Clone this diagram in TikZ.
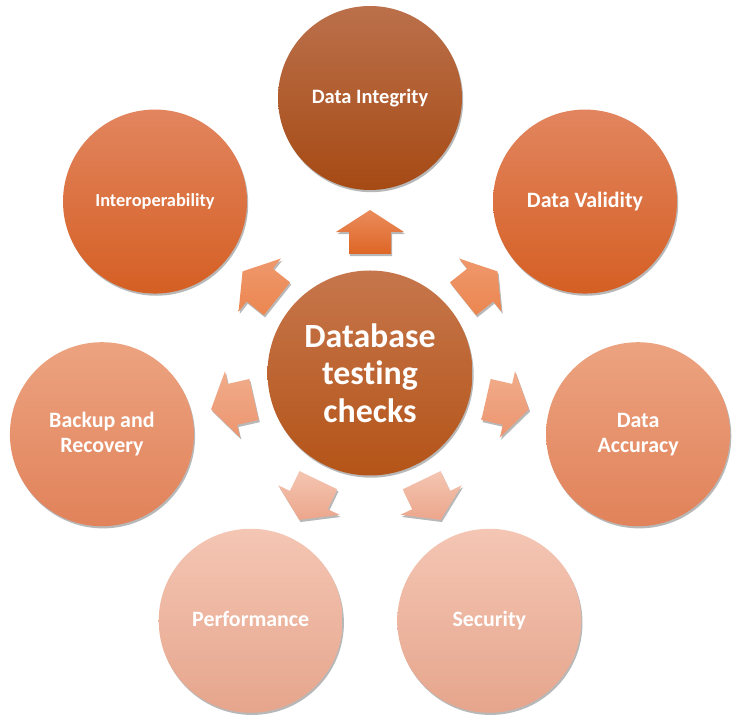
\documentclass[tikz,border=0pt]{standalone}
\usepackage{fontspec}
\setmainfont{Carlito}[Ligatures=NoCommon, Contextuals=NoAlternate]
\usetikzlibrary{shadows}
\definecolor{hubT}{RGB}{198,118,76}
\definecolor{hubB}{RGB}{180,84,24}
\definecolor{intT}{RGB}{187,112,75}
\definecolor{intB}{RGB}{166,74,20}
\definecolor{aT}{RGB}{226,133,95}
\definecolor{aB}{RGB}{213,95,35}
\definecolor{bT}{RGB}{236,163,128}
\definecolor{bB}{RGB}{225,130,90}
\definecolor{cT}{RGB}{244,198,180}
\definecolor{cB}{RGB}{230,165,140}
\definecolor{arUT}{RGB}{234,140,92}
\definecolor{arUB}{RGB}{222,102,38}
\definecolor{ar1T}{RGB}{238,152,108}
\definecolor{ar1B}{RGB}{236,134,80}
\definecolor{ar2T}{RGB}{241,172,138}
\definecolor{ar2B}{RGB}{236,150,112}
\definecolor{ar3T}{RGB}{244,197,177}
\definecolor{ar3B}{RGB}{236,166,140}
\newcommand\blockarr[3]{%
  \path[arrowshape, top color=#2, bottom color=#3, shift={(hub.center)}]
    ({#1-10.01}:120.84) -- ({#1-8.47}:142.56) -- ({#1-13.56}:145.04) --
    ({#1}:163) -- ({#1+13.56}:145.04) -- ({#1+8.47}:142.56) --
    ({#1+10.01}:120.84) -- cycle;}
\begin{document}
\begin{tikzpicture}[x=1bp,y=1bp,
  shad/.style={drop shadow={shadow xshift=1.2bp, shadow yshift=-2.2bp, opacity=0.28, fill=black}},
  bubble/.style={circle, inner sep=0pt, minimum size=184bp, text=white, align=center,
    font=\bfseries\fontsize{22}{25}\selectfont, shad},
  hubstyle/.style={circle, inner sep=0pt, minimum size=205bp, text=white, align=center,
    font=\bfseries\fontsize{34}{37.5}\selectfont, shad, top color=hubT, bottom color=hubB},
  arrowshape/.style={shad}]
\useasboundingbox (0,0) rectangle (740,720);
\node[hubstyle] (hub) at (370,347) {Database\\test\kern0pt ing\\checks};
\node[bubble, top color=intT, bottom color=intB, font=\bfseries\fontsize{20.5}{24}\selectfont]
  (integrity) at ([shift={(90:275)}]hub.center) {Data Integrity};
\node[bubble, top color=aT, bottom color=aB, font=\bfseries\fontsize{18.5}{22}\selectfont]
  (interop) at ([shift={(141.43:275)}]hub.center) {Interoperability};
\node[bubble, top color=bT, bottom color=bB]
  (backup) at ([shift={(192.86:275)}]hub.center) {Backup and\\Recovery};
\node[bubble, top color=cT, bottom color=cB]
  (perf) at ([shift={(244.29:275)}]hub.center) {Performance\vphantom{y}};
\node[bubble, top color=cT, bottom color=cB]
  (security) at ([shift={(295.71:275)}]hub.center) {Security};
\node[bubble, top color=bT, bottom color=bB]
  (accuracy) at ([shift={(347.14:275)}]hub.center) {Data\\Accuracy};
\node[bubble, top color=aT, bottom color=aB]
  (validity) at ([shift={(38.57:275)}]hub.center) {Data Validity};
\blockarr{90}{arUT}{arUB}
\blockarr{141.43}{ar1T}{ar1B}
\blockarr{38.57}{ar1T}{ar1B}
\blockarr{192.86}{ar2T}{ar2B}
\blockarr{347.14}{ar2T}{ar2B}
\blockarr{244.29}{ar3T}{ar3B}
\blockarr{295.71}{ar3T}{ar3B}
\end{tikzpicture}
\end{document}
